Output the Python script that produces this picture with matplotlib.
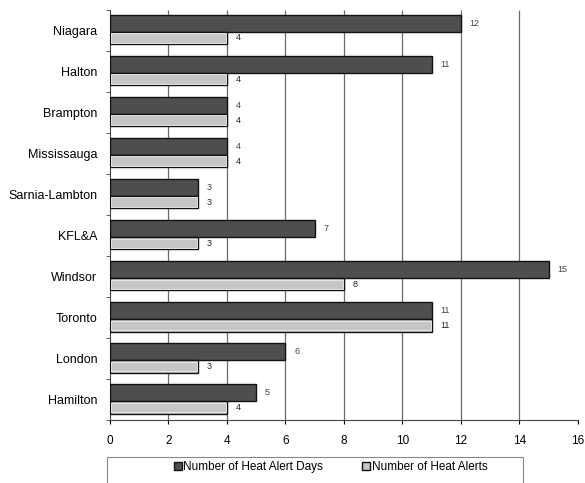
import matplotlib
matplotlib.use("Agg")
import matplotlib.pyplot as plt
from matplotlib.patches import Rectangle
import numpy as np

plt.rcParams["font.family"] = ["Liberation Sans", "DejaVu Sans"]

regions = ["Niagara", "Halton", "Brampton", "Mississauga", "Sarnia-Lambton",
           "KFL&A", "Windsor", "Toronto", "London", "Hamilton"]
alert_days = [12, 11, 4, 4, 3, 7, 15, 11, 6, 5]
alerts = [4, 4, 4, 4, 3, 3, 8, 11, 3, 4]

fig = plt.figure(figsize=(5.85, 4.83), dpi=100)
ax = fig.add_axes([0.188, 0.130, 0.800, 0.850])

y = np.arange(len(regions))
h_days = 0.42
h_alerts = 0.30
y_days = y - 0.38 + h_days / 2
y_alerts = y + 0.04 + h_alerts / 2

b1 = ax.barh(y_days, alert_days, height=h_days, color="#4e4e4e",
             edgecolor="#111111", linewidth=1.0, label="Number of Heat Alert Days", zorder=3)
b2 = ax.barh(y_alerts, alerts, height=h_alerts, color="#c6c6c6",
             edgecolor="#111111", linewidth=1.0, label="Number of Heat Alerts", zorder=3)
# faint lighter rim inside the light bars
ax.barh(y_alerts, np.array(alerts) - 0.08, left=0.04, height=h_alerts - 0.07,
        color="none", edgecolor="#ececec", linewidth=0.6, zorder=4)

for bar, v in zip(b1, alert_days):
    ax.text(bar.get_width() + 0.3, bar.get_y() + bar.get_height() / 2, str(v),
            va="center", ha="left", fontsize=6.5, color="#444444")
for bar, v in zip(b2, alerts):
    ax.text(bar.get_width() + 0.3, bar.get_y() + bar.get_height() / 2, str(v),
            va="center", ha="left", fontsize=6.5, color="#222222")

ax.set_xlim(0, 16)
ax.set_ylim(len(regions) - 0.5, -0.5)
xt = np.arange(0, 17, 2)
ax.set_xticks(xt)
ax.vlines(xt[1:-1], len(regions) - 0.5, -0.5, color="#6a6a6a", linewidth=0.9, zorder=1)

ax.set_yticks(y)
ax.set_yticklabels(regions, fontsize=9)
ax.set_yticks(np.arange(len(regions) + 1) - 0.5, minor=True)
ax.tick_params(axis="x", labelsize=8.5, length=3, pad=8)
ax.tick_params(axis="y", which="major", length=0, pad=9)
ax.tick_params(axis="y", which="minor", length=3, color="#444444")
for s in ["top", "right"]:
    ax.spines[s].set_visible(False)
ax.spines["left"].set_color("#444444")
ax.spines["bottom"].set_color("#444444")

# legend box below the plot
fig.patches.append(Rectangle((0.183, -0.02), 0.711, 0.074, transform=fig.transFigure,
                             facecolor="white", edgecolor="#888888", linewidth=0.8))
fig.legend(handles=[b1, b2], loc="center", bbox_to_anchor=(0.565, 1 - 467 / 483),
           ncol=2, fontsize=8.5, frameon=False, handlelength=0.7, handleheight=0.7,
           handletextpad=0.1, columnspacing=3.3)

fig.savefig("out.png", dpi=100)
